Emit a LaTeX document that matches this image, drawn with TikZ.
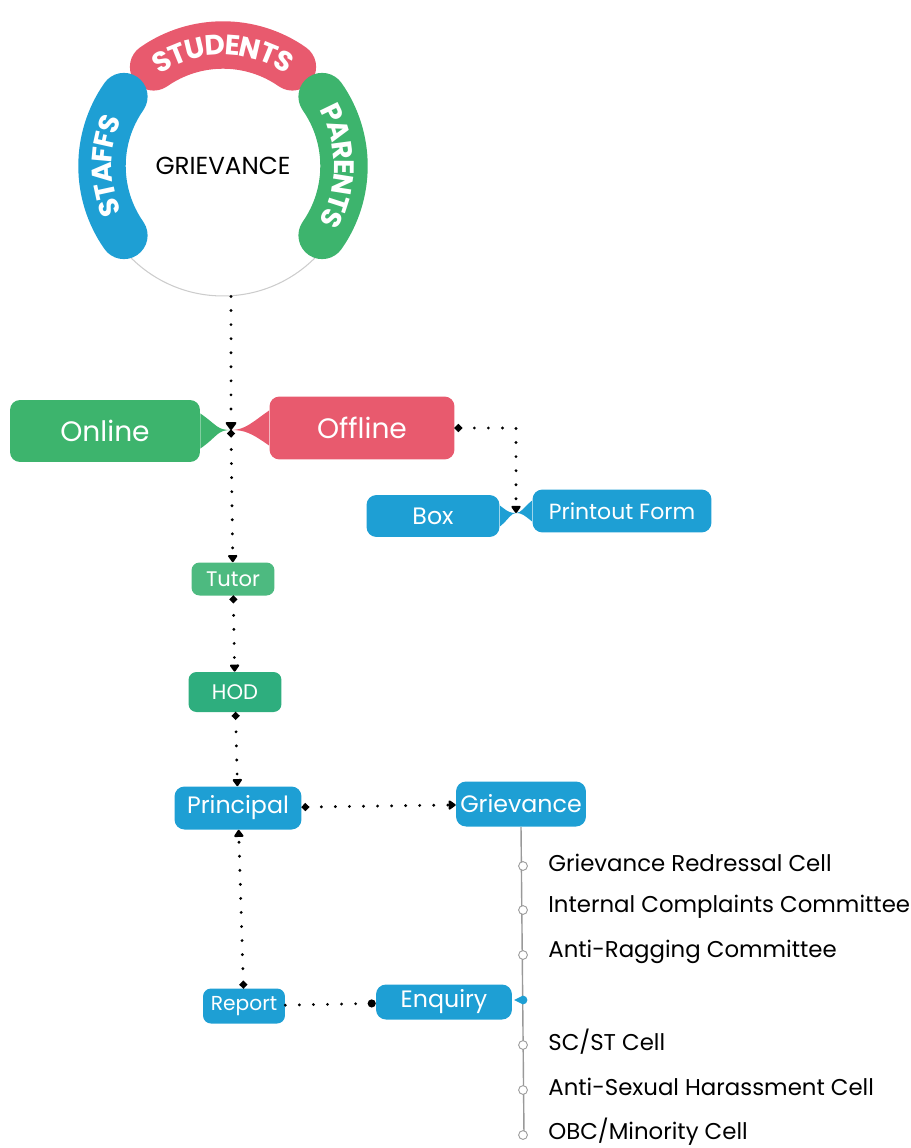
\documentclass[tikz,border=0pt]{standalone}
\usepackage{fontspec}
\setmainfont{Poppins}
\usetikzlibrary{arrows.meta,decorations.text}
\definecolor{pinkred}{HTML}{E85A6E}
\definecolor{leafgreen}{HTML}{3DB46D}
\definecolor{skyblue}{HTML}{1E9FD4}
\definecolor{mintgreen}{HTML}{4DBA80}
\definecolor{tealgreen}{HTML}{2EAE7E}

\tikzset{
	pill/.style={rounded corners=0.2cm, text=white, inner sep=0pt},
	flow/.style={line width=1.8pt, dash pattern=on 0pt off 8pt, line cap=round,
		{Circle[length=4pt]}-{Triangle[length=4.5pt,width=6pt,round]}},
	band/.style={line width=27pt, line cap=round},
	bandtext/.style={decorate, decoration={text along path, text align=center, raise=-5.6pt,
		text={|\fontsize{16}{16}\selectfont\bfseries\color{white}|#1}}},
	item/.style={anchor=west, font=\fontsize{13}{15}\selectfont, inner sep=0pt},
	hole/.style={circle, draw=gray!80, fill=white, line width=0.5pt, inner sep=0pt, minimum size=5pt},
}

\begin{document}
\begin{tikzpicture}[x=0.02cm, y=0.02cm]
			\useasboundingbox (0,0) rectangle (911,-1148);

			% the ring
			\node[circle, draw=gray!40, line width=0.6pt, minimum size=5.2cm,
				font=\fontsize{14}{16}\selectfont] (grv) at (223,-166) {GRIEVANCE};

			\draw[band, pinkred] ([shift={(125:121)}]grv.center) arc (125:55:121);
			\draw[band, skyblue] ([shift={(215:121)}]grv.center) arc (215:145:121);
			\draw[band, leafgreen] ([shift={(35:121)}]grv.center) arc (35:-35:121);

			\path[bandtext=STUDENTS] ([shift={(140:121)}]grv.center) arc (140:40:121);
			\path[bandtext=STAFFS] ([shift={(235:121)}]grv.center) arc (235:125:121);
			\path[bandtext=PARENTS] ([shift={(55:121)}]grv.center) arc (55:-55:121);

			% mode
			\coordinate (jon) at (231,-430);
			\node[pill, fill=leafgreen, minimum width=3.8cm, minimum height=1.24cm,
				font=\fontsize{16}{18}\selectfont] (on) at (105,-431) {Online};
			\node[pill, fill=pinkred, minimum width=3.7cm, minimum height=1.26cm,
				font=\fontsize{16}{18}\selectfont] (off) at (362,-428) {Offline};

			\fill[leafgreen] ([yshift=10pt]on.east) .. controls +(10pt,-7pt) and +(-8pt,0pt) .. (jon)
				.. controls +(-8pt,0pt) and +(10pt,7pt) .. ([yshift=-10pt]on.east) -- cycle;
			\fill[pinkred] ([yshift=10pt]off.west) .. controls +(-10pt,-7pt) and +(8pt,0pt) .. (jon)
				.. controls +(8pt,0pt) and +(-10pt,7pt) .. ([yshift=-10pt]off.west) -- cycle;

			\coordinate (jbx) at (516,-513);
			\node[pill, fill=skyblue, minimum width=2.66cm, minimum height=0.84cm,
				font=\fontsize{13.5}{15}\selectfont] (box) at (433,-516) {Box};
			\node[pill, fill=skyblue, minimum width=3.58cm, minimum height=0.86cm,
				font=\fontsize{12.5}{15}\selectfont] (pf) at (622,-511) {Printout Form};

			\fill[skyblue] ([yshift=6pt]box.east) .. controls +(5pt,-4pt) and +(-3pt,0pt) .. (jbx)
				.. controls +(-3pt,0pt) and +(5pt,4pt) .. ([yshift=-6pt]box.east) -- cycle;
			\fill[skyblue] ([yshift=6pt]pf.west) .. controls +(-5pt,-4pt) and +(3pt,0pt) .. (jbx)
				.. controls +(3pt,0pt) and +(-5pt,4pt) .. ([yshift=-6pt]pf.west) -- cycle;

			% chain
			\node[pill, fill=mintgreen, minimum width=1.66cm, minimum height=0.66cm,
				rounded corners=0.16cm, font=\fontsize{12}{14}\selectfont] (tut) at (233,-579) {Tutor};
			\node[pill, fill=tealgreen, minimum width=1.86cm, minimum height=0.8cm,
				rounded corners=0.16cm, font=\fontsize{12}{14}\selectfont] (hod) at (235,-692) {HOD};
			\node[pill, fill=skyblue, minimum width=2.54cm, minimum height=0.86cm,
				font=\fontsize{13.5}{15}\selectfont] (pri) at (238,-808) {Principal};
			\node[pill, fill=skyblue, minimum width=2.6cm, minimum height=0.9cm,
				font=\fontsize{13.5}{15}\selectfont] (gr) at (521,-804) {Grievance};
			\node[pill, fill=skyblue, minimum width=2.72cm, minimum height=0.7cm,
				font=\fontsize{13.5}{15}\selectfont] (enq) at (444,-1002) {Enquiry};
			\node[pill, fill=skyblue, minimum width=1.64cm, minimum height=0.7cm,
				rounded corners=0.16cm, font=\fontsize{11.5}{13}\selectfont] (rep) at (244,-1006) {Report};

			\draw[flow, {Circle[length=0pt]}-{Triangle[length=5pt,width=7pt,round]}] (grv.south -| jon) -- (jon);
			\draw[flow] (jon) -- (tut);
			\draw[flow] (off.east) -| (jbx);
			\draw[flow] (tut) -- (hod);
			\draw[flow] (hod) -- (pri);
			\draw[flow] (pri) -- (gr);
			\draw[flow] (rep) -- (pri);
			\draw[flow, -{Circle[length=4.5pt]}] (rep) -- (enq);

			% committees
			\coordinate (lend) at (524,-1135);
			\draw[gray!80, line width=0.8pt] (gr.south) -- (lend);

			\coordinate (enqm) at (523,-1000);
			\fill[skyblue] ([xshift=-5pt]enqm) -- ([yshift=2.5pt]enqm) arc (90:-90:2.5pt) -- cycle;

			\foreach \y/\t [count=\i] in {866/{Grievance Redressal Cell}, 910/{Internal Complaints Committee},
				955/{Anti-Ragging Committee}, 1045/{SC/ST Cell}, 1090/{Anti-Sexual Harassment Cell},
				1135/{OBC/Minority Cell}}
			{
				\node[hole] (h\i) at (523,-\y) {};
				\node[item] (cell\i) at (548,-\y+3) {\t};
			}
		\end{tikzpicture}
\end{document}
